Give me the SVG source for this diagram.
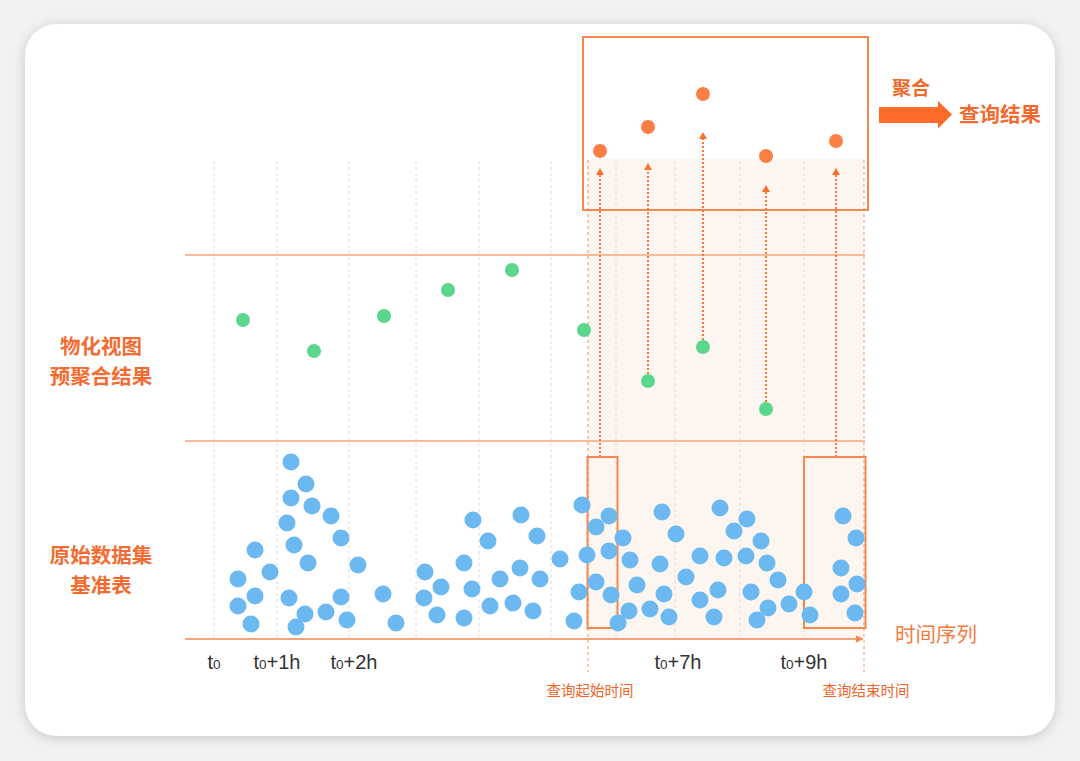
<svg xmlns="http://www.w3.org/2000/svg" width="1080" height="761" viewBox="0 0 1080 761">
<defs>
<filter id="sh" x="-5%" y="-5%" width="110%" height="110%">
<feGaussianBlur in="SourceAlpha" stdDeviation="6"/>
<feOffset dx="0" dy="2"/>
<feComponentTransfer><feFuncA type="linear" slope="0.18"/></feComponentTransfer>
<feMerge><feMergeNode/><feMergeNode in="SourceGraphic"/></feMerge>
</filter>
<marker id="ah" markerUnits="userSpaceOnUse" markerWidth="10" markerHeight="10" viewBox="0 0 10 10" refX="1" refY="5" orient="auto">
<path d="M0,1 L7,5 L0,9 Z" fill="#f86f2f"/>
</marker>
<marker id="axh" markerUnits="userSpaceOnUse" markerWidth="10" markerHeight="10" viewBox="0 0 10 10" refX="6" refY="5" orient="auto">
<path d="M0,1.5 L8,5 L0,8.5 Z" fill="#f58450"/>
</marker>
</defs>
<style>
.grid{stroke:#dcdcdc;stroke-width:1;stroke-dasharray:3 3;fill:none}
.hl{stroke:#f9a47d;stroke-width:1.5;fill:none}
.od{stroke:#f9a37c;stroke-width:1.2;stroke-dasharray:3 3;fill:none}
.arr{stroke:#f8783a;stroke-width:2;stroke-dasharray:2 2;fill:none}
.box{stroke:#f5874f;stroke-width:2;fill:none}
.b{fill:#6cb8f1}
.g{fill:#5ad68d}
.o{fill:#fa7f45}
.lbl{font-family:"Noto Sans CJK SC",sans-serif;font-size:20.5px;font-weight:bold;fill:#f46c32;text-anchor:middle}
.tl{font-family:"Liberation Sans",Arial,sans-serif;font-size:20px;fill:#333;text-anchor:middle}
.qs{font-family:"Noto Sans CJK SC",sans-serif;font-size:14.5px;fill:#f2642a;text-anchor:middle}
</style>
<rect x="0" y="0" width="1080" height="761" fill="#f1f1f1"/>
<rect id="card" x="25" y="24" width="1030" height="712" rx="32" fill="#ffffff" filter="url(#sh)"/>

<rect id="shade" x="588" y="159" width="276" height="480" fill="#fdf6f0"/>

<g id="gridlines">
<line class="grid" x1="214" y1="161" x2="214" y2="639"/>
<line class="grid" x1="277" y1="161" x2="277" y2="639"/>
<line class="grid" x1="349" y1="161" x2="349" y2="639"/>
<line class="grid" x1="416" y1="161" x2="416" y2="639"/>
<line class="grid" x1="479" y1="161" x2="479" y2="639"/>
<line class="grid" x1="551" y1="161" x2="551" y2="639"/>
<line class="grid" x1="616" y1="161" x2="616" y2="639"/>
<line class="grid" x1="675" y1="161" x2="675" y2="639"/>
<line class="grid" x1="740" y1="161" x2="740" y2="639"/>
<line class="grid" x1="804" y1="161" x2="804" y2="639"/>
</g>

<g id="hlines">
<line class="hl" x1="185" y1="255" x2="865" y2="255"/>
<line class="hl" x1="185" y1="441" x2="865" y2="441"/>
</g>

<g id="axis">
<line x1="185" y1="639" x2="862" y2="639" stroke="#f58450" stroke-width="1.5" marker-end="url(#axh)"/>
</g>

<g id="range-lines">
<line class="od" x1="588" y1="160" x2="588" y2="672"/>
<line class="od" x1="864" y1="160" x2="864" y2="672"/>
</g>

<g id="top-box"><rect class="box" x="583" y="37" width="285" height="173"/></g>
<g id="start-box"><rect class="box" x="587.5" y="457" width="30" height="171"/></g>
<g id="end-box"><rect class="box" x="804" y="457" width="61.5" height="171"/></g>

<g id="connectors">
<line class="arr" x1="600" y1="457" x2="600" y2="174" marker-end="url(#ah)"/>
<line class="arr" x1="648" y1="374" x2="648" y2="169" marker-end="url(#ah)"/>
<line class="arr" x1="703" y1="340" x2="703" y2="138" marker-end="url(#ah)"/>
<line class="arr" x1="766" y1="402" x2="766" y2="191" marker-end="url(#ah)"/>
<line class="arr" x1="836" y1="457" x2="836" y2="174" marker-end="url(#ah)"/>
</g>

<g id="agg-dots">
<circle class="o" cx="600" cy="151" r="7"/>
<circle class="o" cx="648" cy="127" r="7"/>
<circle class="o" cx="703" cy="94" r="7"/>
<circle class="o" cx="766" cy="156" r="7"/>
<circle class="o" cx="836" cy="141" r="7"/>
</g>

<g id="mv-dots">
<circle class="g" cx="243" cy="320" r="7"/>
<circle class="g" cx="314" cy="351" r="7"/>
<circle class="g" cx="384" cy="316" r="7"/>
<circle class="g" cx="448" cy="290" r="7"/>
<circle class="g" cx="512" cy="270" r="7"/>
<circle class="g" cx="584" cy="330" r="7"/>
<circle class="g" cx="648" cy="381" r="7"/>
<circle class="g" cx="703" cy="347" r="7"/>
<circle class="g" cx="766" cy="409" r="7"/>
</g>

<g id="raw-dots">
<circle class="b" cx="291" cy="462" r="8.5"/>
<circle class="b" cx="306" cy="484" r="8.5"/>
<circle class="b" cx="291" cy="498" r="8.5"/>
<circle class="b" cx="312" cy="506" r="8.5"/>
<circle class="b" cx="331" cy="516" r="8.5"/>
<circle class="b" cx="287" cy="523" r="8.5"/>
<circle class="b" cx="341" cy="538" r="8.5"/>
<circle class="b" cx="294" cy="545" r="8.5"/>
<circle class="b" cx="255" cy="550" r="8.5"/>
<circle class="b" cx="308" cy="563" r="8.5"/>
<circle class="b" cx="358" cy="565" r="8.5"/>
<circle class="b" cx="238" cy="579" r="8.5"/>
<circle class="b" cx="270" cy="572" r="8.5"/>
<circle class="b" cx="255" cy="596" r="8.5"/>
<circle class="b" cx="238" cy="606" r="8.5"/>
<circle class="b" cx="251" cy="624" r="8.5"/>
<circle class="b" cx="289" cy="598" r="8.5"/>
<circle class="b" cx="305" cy="614" r="8.5"/>
<circle class="b" cx="296" cy="627" r="8.5"/>
<circle class="b" cx="326" cy="612" r="8.5"/>
<circle class="b" cx="341" cy="597" r="8.5"/>
<circle class="b" cx="347" cy="620" r="8.5"/>
<circle class="b" cx="383" cy="594" r="8.5"/>
<circle class="b" cx="396" cy="623" r="8.5"/>
<circle class="b" cx="425" cy="572" r="8.5"/>
<circle class="b" cx="441" cy="587" r="8.5"/>
<circle class="b" cx="424" cy="598" r="8.5"/>
<circle class="b" cx="437" cy="615" r="8.5"/>
<circle class="b" cx="473" cy="520" r="8.5"/>
<circle class="b" cx="464" cy="563" r="8.5"/>
<circle class="b" cx="488" cy="541" r="8.5"/>
<circle class="b" cx="472" cy="589" r="8.5"/>
<circle class="b" cx="464" cy="618" r="8.5"/>
<circle class="b" cx="490" cy="606" r="8.5"/>
<circle class="b" cx="500" cy="579" r="8.5"/>
<circle class="b" cx="521" cy="515" r="8.5"/>
<circle class="b" cx="537" cy="536" r="8.5"/>
<circle class="b" cx="520" cy="568" r="8.5"/>
<circle class="b" cx="540" cy="579" r="8.5"/>
<circle class="b" cx="513" cy="603" r="8.5"/>
<circle class="b" cx="533" cy="611" r="8.5"/>
<circle class="b" cx="560" cy="559" r="8.5"/>
<circle class="b" cx="582" cy="505" r="8.5"/>
<circle class="b" cx="587" cy="555" r="8.5"/>
<circle class="b" cx="579" cy="592" r="8.5"/>
<circle class="b" cx="574" cy="621" r="8.5"/>
<circle class="b" cx="596" cy="527" r="8.5"/>
<circle class="b" cx="596" cy="582" r="8.5"/>
<circle class="b" cx="609" cy="516" r="8.5"/>
<circle class="b" cx="609" cy="551" r="8.5"/>
<circle class="b" cx="623" cy="538" r="8.5"/>
<circle class="b" cx="630" cy="560" r="8.5"/>
<circle class="b" cx="611" cy="595" r="8.5"/>
<circle class="b" cx="637" cy="585" r="8.5"/>
<circle class="b" cx="618" cy="623" r="8.5"/>
<circle class="b" cx="629" cy="611" r="8.5"/>
<circle class="b" cx="650" cy="609" r="8.5"/>
<circle class="b" cx="662" cy="512" r="8.5"/>
<circle class="b" cx="676" cy="534" r="8.5"/>
<circle class="b" cx="660" cy="564" r="8.5"/>
<circle class="b" cx="664" cy="594" r="8.5"/>
<circle class="b" cx="669" cy="617" r="8.5"/>
<circle class="b" cx="686" cy="577" r="8.5"/>
<circle class="b" cx="700" cy="556" r="8.5"/>
<circle class="b" cx="700" cy="600" r="8.5"/>
<circle class="b" cx="718" cy="590" r="8.5"/>
<circle class="b" cx="714" cy="617" r="8.5"/>
<circle class="b" cx="720" cy="508" r="8.5"/>
<circle class="b" cx="724" cy="558" r="8.5"/>
<circle class="b" cx="734" cy="531" r="8.5"/>
<circle class="b" cx="747" cy="519" r="8.5"/>
<circle class="b" cx="746" cy="556" r="8.5"/>
<circle class="b" cx="761" cy="541" r="8.5"/>
<circle class="b" cx="767" cy="563" r="8.5"/>
<circle class="b" cx="778" cy="580" r="8.5"/>
<circle class="b" cx="751" cy="592" r="8.5"/>
<circle class="b" cx="768" cy="608" r="8.5"/>
<circle class="b" cx="757" cy="620" r="8.5"/>
<circle class="b" cx="789" cy="604" r="8.5"/>
<circle class="b" cx="804" cy="592" r="8.5"/>
<circle class="b" cx="810" cy="615" r="8.5"/>
<circle class="b" cx="843" cy="516" r="8.5"/>
<circle class="b" cx="856" cy="538" r="8.5"/>
<circle class="b" cx="841" cy="568" r="8.5"/>
<circle class="b" cx="857" cy="584" r="8.5"/>
<circle class="b" cx="841" cy="594" r="8.5"/>
<circle class="b" cx="855" cy="613" r="8.5"/>
</g>

<g id="result">
<text x="911" y="95" font-family="'Noto Sans CJK SC',sans-serif" font-size="19" font-weight="bold" fill="#f2692d" text-anchor="middle">聚合</text>
<path d="M879,107 L938,107 L938,101 L952,114.5 L938,128.5 L938,123 L879,123 Z" fill="#fd6a2a"/>
<text x="1000" y="122" font-family="'Noto Sans CJK SC',sans-serif" font-size="20.5" font-weight="bold" fill="#f46a2e" text-anchor="middle">查询结果</text>
</g>

<g id="side-labels">
<text class="lbl" x="101" y="354">物化视图</text>
<text class="lbl" x="101" y="384">预聚合结果</text>
<text class="lbl" x="101" y="563">原始数据集</text>
<text class="lbl" x="101" y="593">基准表</text>
</g>

<g id="time-labels">
<text class="tl" x="214" y="669">t<tspan font-size="13.5">0</tspan></text>
<text class="tl" x="277" y="669">t<tspan font-size="13.5">0</tspan>+1h</text>
<text class="tl" x="354" y="669">t<tspan font-size="13.5">0</tspan>+2h</text>
<text class="tl" x="678" y="669">t<tspan font-size="13.5">0</tspan>+7h</text>
<text class="tl" x="804" y="669">t<tspan font-size="13.5">0</tspan>+9h</text>
</g>

<g id="axis-labels">
<text x="895" y="642" font-family="'Noto Sans CJK SC',sans-serif" font-size="20.5" fill="#f47c44">时间序列</text>
<text class="qs" x="590" y="696">查询起始时间</text>
<text class="qs" x="866" y="696">查询结束时间</text>
</g>
</svg>
